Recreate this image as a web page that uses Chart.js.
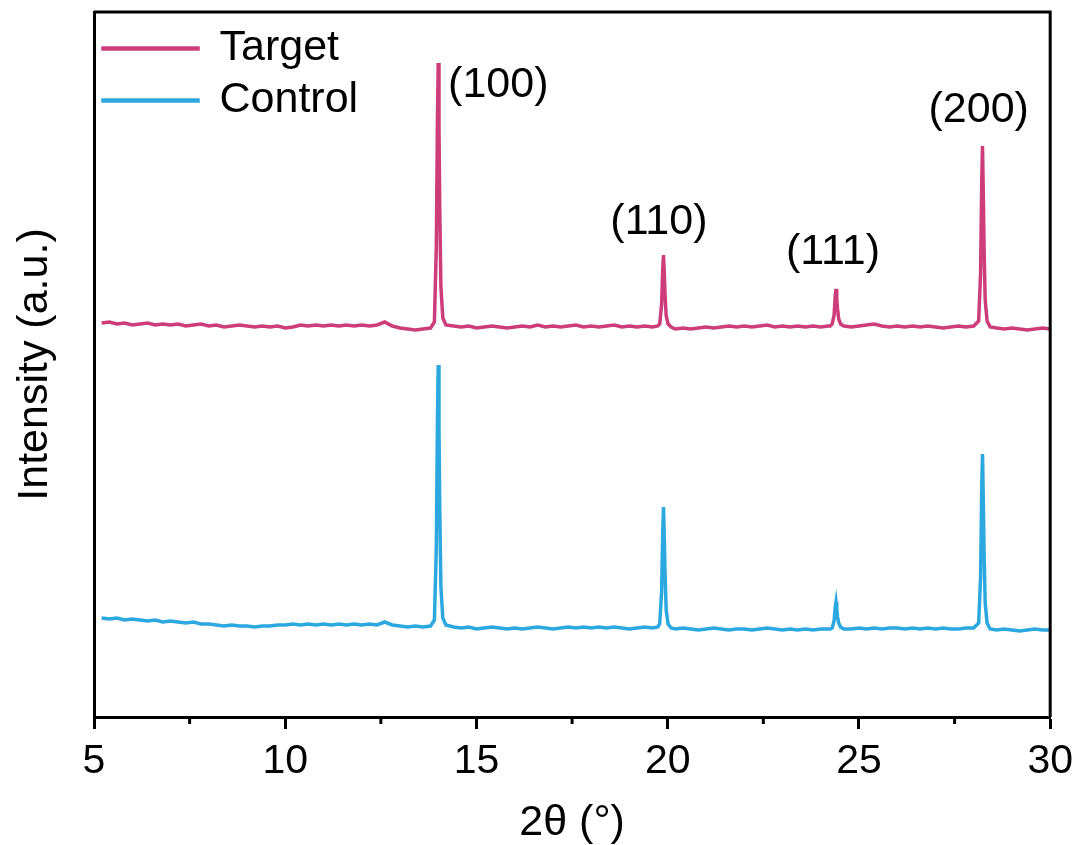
<!DOCTYPE html>
<html>
<head>
<meta charset="utf-8">
<script src="https://cdn.jsdelivr.net/npm/chart.js@4.4.0/dist/chart.umd.min.js"></script>
<style>
  body { margin: 0; background: #fff; }
  canvas { display: block; }
</style>
</head>
<body>
<canvas id="xrd" width="1081" height="845"></canvas>
<script>
// 2theta positions (deg)
const twoTheta = [
  5.2, 5.4, 5.6, 5.8, 6.0, 6.2, 6.4, 6.6, 6.8, 7.0, 7.2,
  7.4, 7.6, 7.8, 8.0, 8.2, 8.4, 8.6, 8.8, 9.0, 9.2, 9.4,
  9.6, 9.8, 10.0, 10.2, 10.4, 10.6, 10.8, 11.0, 11.2, 11.4, 11.6,
  11.8, 12.0, 12.2, 12.4, 12.6, 12.8, 13.0, 13.2, 13.4, 13.6, 13.8,
  13.9, 13.95, 13.98, 14.0, 14.02, 14.04, 14.07, 14.12, 14.2,
  14.4, 14.6, 14.8, 15.0, 15.2, 15.4, 15.6, 15.8, 16.0,
  16.2, 16.4, 16.6, 16.8, 17.0, 17.2, 17.4, 17.6, 17.8,
  18.0, 18.2, 18.4, 18.6, 18.8, 19.0, 19.2, 19.4, 19.6,
  19.74, 19.79, 19.84, 19.87, 19.89, 19.91, 19.93, 19.96, 20.01, 20.09,
  20.2, 20.4, 20.6, 20.8, 21.0, 21.2, 21.4,
  21.6, 21.8, 22.0, 22.2, 22.4, 22.6, 22.8,
  23.0, 23.2, 23.4, 23.6, 23.8, 24.0, 24.2,
  24.25, 24.3, 24.35, 24.38, 24.4, 24.42, 24.44, 24.47, 24.52, 24.6,
  24.8, 25.0, 25.2, 25.4, 25.6, 25.8, 26.0, 26.2, 26.4,
  26.6, 26.8, 27.0, 27.2, 27.4, 27.6, 27.8, 28.0,
  28.13, 28.18, 28.21, 28.23, 28.25, 28.27, 28.3, 28.35, 28.43,
  28.6, 28.8, 29.0, 29.2, 29.4, 29.6, 29.8, 30.0
];

const target = [
  394, 395, 393, 394, 392, 393, 394, 392, 393, 392, 393,
  391, 392, 393, 391, 392, 390, 391, 392, 391, 390, 391,
  390, 391, 389, 390, 392, 391, 392, 391, 392, 391, 392,
  391, 392, 391, 392, 395, 391, 389, 388, 387, 388, 389,
  395, 470, 601, 654, 588, 509, 430, 399, 392,
  391, 390, 391, 389, 390, 391, 390, 389, 390,
  391, 390, 392, 390, 391, 390, 391, 392, 390,
  391, 390, 391, 392, 390, 391, 390, 391, 390,
  391, 393, 412, 448, 462, 444, 422, 401, 393, 390,
  388, 389, 388, 389, 390, 389, 390,
  391, 390, 391, 390, 391, 392, 390,
  391, 390, 391, 390, 391, 390, 391,
  391, 393, 402, 421, 428, 418, 408, 398, 393, 391,
  390, 391, 392, 393, 391, 390, 391, 390, 391,
  390, 391, 390, 389, 390, 391, 390, 391,
  396, 444, 535, 571, 526, 471, 417, 396, 390,
  389, 388, 389, 388, 387, 388, 389, 388
];

const control = [
  99, 98, 99, 97, 98, 97, 96, 97, 95, 96, 95,
  94, 95, 93, 93, 92, 91, 92, 91, 91, 90, 91,
  91, 92, 92, 93, 92, 93, 92, 93, 92, 93, 92,
  93, 92, 93, 92, 95, 92, 91, 90, 91, 90, 91,
  97, 169, 300, 352, 287, 208, 130, 99, 92,
  90, 89, 90, 88, 89, 90, 89, 88, 89,
  88, 89, 90, 89, 88, 89, 90, 89, 90,
  89, 90, 89, 90, 89, 88, 89, 90, 89,
  90, 93, 125, 186, 210, 180, 143, 107, 93, 89,
  88, 89, 88, 87, 88, 89, 88,
  87, 88, 88, 87, 88, 89, 88,
  87, 88, 87, 88, 87, 88, 88,
  88, 89, 96, 110, 115, 108, 100, 94, 90, 88,
  88, 89, 88, 89, 88, 89, 89, 88, 89,
  88, 89, 88, 89, 88, 88, 89, 89,
  94, 140, 228, 263, 219, 167, 114, 94, 88,
  87, 88, 87, 86, 87, 88, 87, 87
];

const peakLabels = ['(100)', '(110)', '(111)', '(200)'];
const peakLabelX = [15.57, 19.77, 24.32, 28.13];
const peakLabelY = [632, 495, 465, 607];
const minorTicks = [7.5, 12.5, 17.5, 22.5, 27.5];

const FONT = "'Liberation Sans', Arial, sans-serif";

function toPoints(ys) {
  return twoTheta.map((x, i) => ({ x: x, y: ys[i] }));
}

// box frame, minor ticks and peak labels
const extras = {
  id: 'extras',
  afterDraw(chart) {
    const ctx = chart.ctx;
    const a = chart.chartArea;
    const xs = chart.scales.x;
    const ys = chart.scales.y;
    ctx.save();
    ctx.strokeStyle = '#000';
    ctx.lineWidth = 3;
    ctx.beginPath();
    ctx.moveTo(a.left, a.top);
    ctx.lineTo(a.right, a.top);
    ctx.lineTo(a.right, a.bottom);
    ctx.stroke();
    ctx.beginPath();
    minorTicks.forEach(v => {
      const px = xs.getPixelForValue(v);
      ctx.moveTo(px, a.bottom);
      ctx.lineTo(px, a.bottom + 7);
    });
    ctx.stroke();
    ctx.fillStyle = '#000';
    ctx.font = '43px ' + FONT;
    ctx.textAlign = 'center';
    ctx.textBaseline = 'middle';
    peakLabels.forEach((t, i) => {
      ctx.fillText(t, xs.getPixelForValue(peakLabelX[i]), ys.getPixelForValue(peakLabelY[i]));
    });
    ctx.restore();
  }
};

new Chart(document.getElementById('xrd').getContext('2d'), {
  type: 'line',
  data: {
    datasets: [{
      label: 'Target',
      data: toPoints(target),
      borderColor: '#CC3D7A',
      backgroundColor: '#CC3D7A',
      borderWidth: 3.5,
      pointRadius: 0,
      tension: 0
    }, {
      label: 'Control',
      data: toPoints(control),
      borderColor: '#2BA8DF',
      backgroundColor: '#2BA8DF',
      borderWidth: 3.5,
      pointRadius: 0,
      tension: 0
    }]
  },
  options: {
    responsive: false,
    animation: false,
    layout: { padding: { top: 12, right: 27, left: 0, bottom: 0 } },
    plugins: {
      tooltip: { enabled: false },
      legend: {
        position: 'chartArea',
        align: 'start',
        title: {
          display: true,
          text: ' ',
          padding: 0,
          font: { size: 15, lineHeight: 1.2 }
        },
        labels: {
          boxWidth: 95,
          boxHeight: 1,
          padding: 9,
          color: '#000',
          font: { family: FONT, size: 43 }
        }
      }
    },
    scales: {
      x: {
        type: 'linear',
        min: 5,
        max: 30,
        ticks: {
          stepSize: 5,
          color: '#000',
          padding: 8,
          font: { family: FONT, size: 41 }
        },
        grid: {
          drawOnChartArea: false,
          drawTicks: true,
          tickLength: 12,
          tickWidth: 3,
          tickColor: '#000'
        },
        border: { display: true, color: '#000', width: 3 },
        title: {
          display: true,
          text: '2θ (°)',
          color: '#000',
          padding: 0,
          font: { family: FONT, size: 43, lineHeight: 1 }
        },
        afterFit(scale) { scale.height = 128; }
      },
      y: {
        min: 0,
        max: 705,
        ticks: { display: false },
        grid: { display: false },
        border: { display: true, color: '#000', width: 3 },
        title: {
          display: true,
          text: 'Intensity (a.u.)',
          color: '#000',
          padding: 14,
          font: { family: FONT, size: 43, lineHeight: 1 }
        },
        afterFit(scale) { scale.width = 94; }
      }
    }
  },
  plugins: [extras]
});
</script>
</body>
</html>
